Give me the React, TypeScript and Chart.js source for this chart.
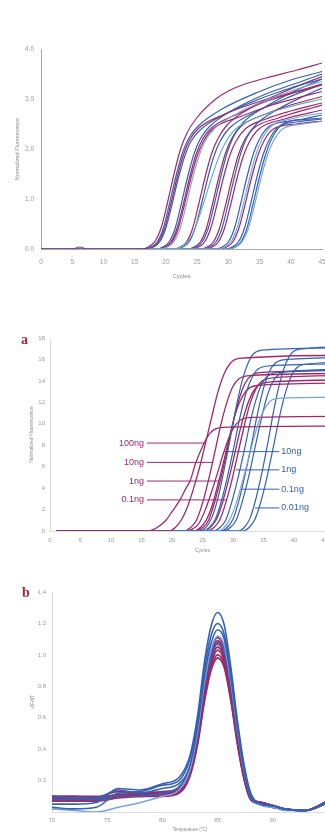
import React, { useEffect, useRef } from 'react';
import { Chart, registerables } from 'chart.js';

Chart.register(...registerables);

type Pt = [number, number];

// ---------------- Panel 1 (top): amplification curves, cycles vs normalised fluorescence
const run1Purple: Pt[][] = [
  [[0,0],[16.3,0],[17.3,0.05],[18.3,0.16],[19.3,0.45],[20.3,0.95],[21.3,1.5],[22.3,1.98],[23.3,2.3],[24.8,2.6],[28,3.0],[31,3.22],[36,3.42],[41,3.58],[45,3.72]],
  [[0,0],[16.8,0],[17.8,0.04],[18.8,0.14],[19.8,0.42],[20.8,0.9],[21.8,1.43],[22.8,1.88],[23.8,2.18],[25.3,2.42],[29.5,2.7],[35,2.95],[40,3.12],[45,3.3]],
  [[0,0],[18.8,0],[19.8,0.04],[20.8,0.14],[21.8,0.42],[22.8,0.9],[23.8,1.43],[24.8,1.88],[25.8,2.18],[27.3,2.42],[31.5,2.7],[36,2.95],[41,3.14],[45,3.28]],
  [[0,0],[19,0],[20,0.04],[21,0.14],[22,0.42],[23,0.9],[24,1.42],[25,1.86],[26,2.15],[27.5,2.4],[32,2.65],[37,2.88],[41,3.02],[45,3.15]],
  [[0,0],[21.3,0],[22.3,0.04],[23.3,0.14],[24.3,0.42],[25.3,0.92],[26.3,1.45],[27.3,1.9],[28.3,2.2],[29.8,2.48],[34,2.85],[39,3.15],[45,3.45]],
  [[0,0],[23.5,0],[24.5,0.04],[25.5,0.14],[26.5,0.42],[27.5,0.92],[28.5,1.45],[29.5,1.9],[30.5,2.2],[32,2.45],[36,2.7],[40,2.88],[45,3.05]],
  [[0,0],[24.2,0],[25.2,0.04],[26.2,0.14],[27.2,0.42],[28.2,0.9],[29.2,1.42],[30.2,1.86],[31.2,2.15],[32.7,2.4],[36,2.6],[40,2.76],[45,2.92]],
  [[0,0],[25.6,0],[26.6,0.04],[27.6,0.14],[28.6,0.42],[29.6,0.9],[30.6,1.42],[31.6,1.88],[32.6,2.18],[34.1,2.42],[38,2.62],[45,2.88]],
  [[0,0],[26.4,0],[27.4,0.04],[28.4,0.14],[29.4,0.42],[30.4,0.9],[31.4,1.42],[32.4,1.86],[33.4,2.15],[34.9,2.4],[39,2.6],[45,2.78]],
  [[0,0],[28.7,0],[29.7,0.04],[30.7,0.14],[31.7,0.42],[32.7,0.9],[33.7,1.42],[34.7,1.86],[35.7,2.16],[37.2,2.4],[41,2.5],[45,2.56]],
];
const run1Blue: Pt[][] = [
  [[0,0],[5,0],[6.2,0.04],[7.4,0],[16.6,0],[17.6,0.04],[18.6,0.14],[19.6,0.42],[20.6,0.92],[21.6,1.45],[22.6,1.9],[23.6,2.2],[25.1,2.45],[29,2.8],[35,3.15],[40,3.38],[45,3.55]],
  [[0,0],[17,0],[18,0.04],[19,0.14],[20,0.42],[21,0.9],[22,1.42],[23,1.85],[24,2.15],[25.5,2.38],[29.5,2.7],[35,3.0],[40,3.22],[45,3.4]],
  [[0,0],[18.5,0],[19.5,0.04],[20.5,0.14],[21.5,0.42],[22.5,0.92],[23.5,1.45],[24.5,1.9],[25.5,2.2],[27,2.45],[31,2.8],[36,3.1],[41,3.32],[45,3.5]],
  [[0,0],[21.7,0],[22.7,0.04],[23.7,0.14],[24.7,0.42],[25.7,0.9],[26.7,1.42],[27.7,1.86],[28.7,2.16],[30.2,2.42],[34,2.72],[39,3.0],[45,3.3]],
  [[0,0],[23.8,0],[24.8,0.04],[25.8,0.14],[26.8,0.42],[27.8,0.92],[28.8,1.45],[29.8,1.92],[30.8,2.24],[32.3,2.52],[36,2.85],[40,3.12],[45,3.4]],
  [[0,0],[26,0],[27,0.04],[28,0.14],[29,0.42],[30,0.92],[31,1.45],[32,1.92],[33,2.24],[34.5,2.5],[38,2.8],[42,3.05],[45,3.22]],
  [[0,0],[28,0],[29,0.04],[30,0.14],[31,0.42],[32,0.92],[33,1.45],[34,1.9],[35,2.2],[36.5,2.45],[40,2.56],[45,2.62]],
  [[0,0],[29.6,0],[30.6,0.04],[31.6,0.14],[32.6,0.42],[33.6,0.92],[34.6,1.45],[35.6,1.9],[36.6,2.2],[38.1,2.45],[41,2.54],[45,2.6]],
  [[0,0],[30,0],[31,0.04],[32,0.14],[33,0.42],[34,0.92],[35,1.45],[36,1.9],[37,2.22],[38.5,2.48],[42,2.6],[45,2.68]],
];
const run1Light: Pt[][] = [
  [[0,0],[19.2,0],[20.2,0.04],[21.2,0.13],[22.2,0.38],[23.2,0.85],[24.2,1.38],[25.2,1.82],[26.2,2.14],[27.7,2.4],[32,2.75],[37,3.02],[41,3.2],[45,3.35]],
  [[0,0],[28.4,0],[29.4,0.04],[30.4,0.14],[31.4,0.42],[32.4,0.9],[33.4,1.42],[34.4,1.88],[35.4,2.2],[36.9,2.46],[40,2.6],[45,2.72]],
  [[0,0],[30.2,0],[31.2,0.04],[32.2,0.14],[33.2,0.4],[34.2,0.88],[35.2,1.4],[36.2,1.85],[37.2,2.15],[38.7,2.4],[42,2.5],[45,2.55]],
];
const run1Teal: Pt[][] = [
  [[0,0],[21.2,0],[22.2,0.03],[23.2,0.1],[24.2,0.28],[25.2,0.6],[26.2,0.98],[27.2,1.38],[28.2,1.75],[29.2,2.05],[31,2.38],[35,2.65],[40,2.85],[45,3.0]],
];

// ---------------- Panel a: amplification of a dilution series
const runAPurple: Pt[][] = [
  [[1,0],[19.5,0],[20.5,0.3],[21.5,1.0],[22.5,2.2],[23.5,3.9],[24.5,5.9],[25.5,8.2],[26.5,10.6],[27.5,12.9],[28.5,14.6],[29.5,15.6],[31,16.1],[50,16.4]],
  [[1,0],[16,0],[17.5,0.3],[19,1.0],[20,1.8],[21.3,2.9],[22.3,4.0],[23,4.7],[23.8,6.2],[25.1,8.0],[26.2,9.1],[27.5,9.6],[30,9.7],[50,9.8]],
  [[1,0],[22,0],[23,0.3],[24,1.0],[25,2.6],[26,4.8],[27,7.3],[28,9.9],[29,12.0],[30,13.5],[31,14.2],[33,14.5],[50,14.7]],
  [[1,0],[22.4,0],[23.4,0.2],[24.4,0.7],[25.4,1.9],[26.4,3.5],[27.4,5.3],[28.4,7.2],[29.4,8.8],[30.4,9.9],[31.4,10.4],[33.4,10.6],[50,10.7]],
  [[1,0],[23.6,0],[24.6,0.3],[25.6,1.0],[26.6,2.4],[27.6,4.5],[28.6,6.8],[29.6,9.2],[30.6,11.3],[31.6,12.6],[32.6,13.3],[34.6,13.6],[50,13.8]],
  [[1,0],[24,0],[25,0.3],[26,1.0],[27,2.7],[28,4.9],[29,7.4],[30,10.1],[31,12.3],[32,13.8],[33,14.5],[35,14.8],[50,15.0]],
  [[1,0],[25.2,0],[26.2,0.3],[27.2,1.0],[28.2,2.5],[29.2,4.6],[30.2,7.0],[31.2,9.5],[32.2,11.5],[33.2,12.9],[34.2,13.6],[36.2,13.9],[50,14.1]],
  [[1,0],[25.8,0],[26.8,0.3],[27.8,1.0],[28.8,2.6],[29.8,4.7],[30.8,7.2],[31.8,9.7],[32.8,11.9],[33.8,13.3],[34.8,14.0],[36.8,14.3],[50,14.5]],
];
const runABlue: Pt[][] = [
  [[1,0],[24.5,0],[25.5,0.3],[26.5,1.2],[27.5,3.0],[28.5,5.6],[29.5,8.5],[30.5,11.5],[31.5,14.0],[32.5,15.7],[33.5,16.6],[35.5,16.9],[50,17.1]],
  [[1,0],[25.1,0],[26.1,0.3],[27.1,1.1],[28.1,2.8],[29.1,5.1],[30.1,7.7],[31.1,10.5],[32.1,12.8],[33.1,14.3],[34.1,15.1],[36.1,15.4],[50,15.6]],
  [[1,0],[26.8,0],[27.8,0.3],[28.8,1.0],[29.8,2.7],[30.8,4.9],[31.8,7.4],[32.8,10.1],[33.8,12.3],[34.8,13.8],[35.8,14.5],[37.8,14.8],[50,15.0]],
  [[1,0],[28,0],[29,0.3],[30,1.1],[31,2.9],[32,5.3],[33,8.0],[34,10.9],[35,13.3],[36,14.9],[37,15.7],[39,16.0],[50,16.2]],
  [[1,0],[28.5,0],[29.5,0.3],[30.5,1.0],[31.5,2.7],[32.5,4.9],[33.5,7.5],[34.5,10.1],[35.5,12.4],[36.5,13.9],[37.5,14.6],[39.5,14.9],[50,15.1]],
  [[1,0],[30.8,0],[31.8,0.3],[32.8,1.2],[33.8,3.1],[34.8,5.6],[35.8,8.5],[36.8,11.6],[37.8,14.1],[38.8,15.8],[39.8,16.7],[41.8,17.0],[50,17.2]],
  [[1,0],[31.6,0],[32.6,0.3],[33.6,1.1],[34.6,2.8],[35.6,5.1],[36.6,7.8],[37.6,10.6],[38.6,12.9],[39.6,14.5],[40.6,15.3],[42.6,15.6],[50,15.8]],
];
const runALight: Pt[][] = [
  [[1,0],[27.3,0],[28.3,0.2],[29.3,0.9],[30.3,2.2],[31.3,4.1],[32.3,6.2],[33.3,8.4],[34.3,10.3],[35.3,11.5],[36.3,12.2],[38.3,12.4],[50,12.5]],
];
const concPurple = ['100ng', '10ng', '1ng', '0.1ng'];
const concPurpleLevel = [8.2, 6.4, 4.66, 2.9];
const concPurpleEnd = [25.4, 26.6, 27.8, 29.0];
const concPurpleStart = 15.9;
const concBlue = ['10ng', '1ng', '0.1ng', '0.01ng'];
const concBlueLevel = [7.4, 5.7, 3.9, 2.15];
const concBlueStart = [28.5, 30.5, 31.5, 33.6];
const concBlueEnd = 37.6;

// ---------------- Panel b: melt curves
const meltTemps = [70, 72, 74, 76, 78, 80, 81.5, 82.5, 83.2, 83.8, 84.4, 85, 85.6, 86.2, 86.8, 87.4, 88, 89, 90, 91, 93, 95];
const meltBlue: number[][] = [
  [0.05, 0.05, 0.06, 0.15, 0.14, 0.18, 0.22, 0.36, 0.62, 0.95, 1.18, 1.27, 1.19, 0.92, 0.58, 0.3, 0.12, 0.05, 0.04, 0.02, 0.01, 0.06],
  [0.03, 0.02, 0.03, 0.12, 0.13, 0.17, 0.2, 0.34, 0.58, 0.9, 1.12, 1.2, 1.13, 0.88, 0.55, 0.28, 0.11, 0.05, 0.04, 0.02, 0.01, 0.06],
  [0.1, 0.09, 0.09, 0.14, 0.12, 0.15, 0.18, 0.3, 0.55, 0.86, 1.07, 1.16, 1.1, 0.86, 0.54, 0.27, 0.1, 0.05, 0.04, 0.02, 0.01, 0.07],
  [0.02, 0.01, 0.0, 0.03, 0.06, 0.1, 0.14, 0.27, 0.52, 0.82, 1.03, 1.12, 1.06, 0.83, 0.52, 0.26, 0.1, 0.04, 0.03, 0.01, 0.01, 0.06],
  [0.08, 0.08, 0.08, 0.1, 0.1, 0.12, 0.16, 0.28, 0.5, 0.8, 0.99, 1.08, 1.02, 0.8, 0.5, 0.25, 0.09, 0.05, 0.04, 0.02, 0.01, 0.06],
];
const meltPurple: number[][] = [
  [0.1, 0.09, 0.09, 0.11, 0.11, 0.12, 0.14, 0.26, 0.49, 0.79, 1.02, 1.11, 1.04, 0.8, 0.49, 0.24, 0.09, 0.06, 0.04, 0.02, 0.01, 0.07],
  [0.09, 0.09, 0.08, 0.1, 0.11, 0.11, 0.13, 0.25, 0.47, 0.76, 0.98, 1.07, 1.0, 0.77, 0.47, 0.23, 0.09, 0.06, 0.04, 0.02, 0.01, 0.07],
  [0.08, 0.08, 0.08, 0.1, 0.1, 0.11, 0.13, 0.25, 0.46, 0.75, 0.96, 1.05, 0.98, 0.76, 0.46, 0.22, 0.08, 0.05, 0.03, 0.02, 0.01, 0.07],
  [0.1, 0.1, 0.09, 0.11, 0.12, 0.13, 0.15, 0.26, 0.46, 0.74, 0.94, 1.03, 0.96, 0.74, 0.45, 0.22, 0.09, 0.06, 0.04, 0.02, 0.01, 0.07],
  [0.07, 0.07, 0.07, 0.09, 0.1, 0.1, 0.12, 0.23, 0.44, 0.72, 0.92, 1.0, 0.94, 0.72, 0.44, 0.21, 0.08, 0.05, 0.03, 0.02, 0.01, 0.06],
  [0.09, 0.08, 0.09, 0.13, 0.12, 0.12, 0.14, 0.26, 0.48, 0.78, 1.0, 1.09, 1.02, 0.79, 0.48, 0.23, 0.09, 0.06, 0.04, 0.02, 0.01, 0.07],
  [0.1, 0.1, 0.1, 0.1, 0.11, 0.12, 0.13, 0.24, 0.44, 0.7, 0.9, 0.98, 0.92, 0.71, 0.43, 0.21, 0.08, 0.05, 0.04, 0.02, 0.01, 0.07],
];

// ---------------- styling
const PURPLE = '#9c2a6b';
const BLUE = '#3461b1';
const LIGHT = '#79a3dc';
const TEAL = '#63aebf';
const MAROON = '#a8263f';
const FONT = '"Liberation Sans", Arial, sans-serif';
const TICK = '#9a9a9a';

Chart.defaults.font.family = FONT;

function curve(pts: Pt[], color: string, width: number): any {
  return {
    data: pts.map(([x, y]) => ({ x, y })),
    borderColor: color,
    borderWidth: width,
    pointRadius: 0,
    fill: false,
    cubicInterpolationMode: 'monotone',
  };
}

function interleave<T>(...groups: T[][]): T[] {
  const out: T[] = [];
  const n = Math.max(...groups.map((g) => g.length));
  for (let i = 0; i < n; i++) for (const g of groups) if (i < g.length) out.push(g[i]);
  return out;
}

function axis(o: {
  min: number; max: number; step: number; size: number; pad: number; border: string;
  title: string; titleSize: number; titlePadTop: number; titlePadBottom: number;
  fit: (s: any) => void; fmt?: (v: number) => string;
}): any {
  return {
    type: 'linear',
    min: o.min,
    max: o.max,
    ticks: {
      stepSize: o.step,
      autoSkip: false,
      maxRotation: 0,
      padding: o.pad,
      color: TICK,
      font: { size: o.size },
      callback: o.fmt ? (v: any) => o.fmt!(Number(v)) : undefined,
    },
    grid: { display: false, drawTicks: false },
    border: { display: true, color: o.border, width: 1 },
    title: {
      display: true,
      text: o.title,
      color: '#8a8a8a',
      font: { size: o.titleSize },
      padding: { top: o.titlePadTop, bottom: o.titlePadBottom },
    },
    afterFit: o.fit,
  };
}

const baseOptions = (padding: any): any => ({
  responsive: false,
  animation: false,
  events: [],
  layout: { padding },
  plugins: { legend: { display: false }, tooltip: { enabled: false } },
});

function makePanel1(canvas: HTMLCanvasElement) {
  const ds = interleave(
    run1Purple.map((p) => curve(p, PURPLE, 1.2)),
    run1Blue.map((p) => curve(p, BLUE, 1.2)),
    run1Light.map((p) => curve(p, LIGHT, 1.1)),
    run1Teal.map((p) => curve(p, TEAL, 1.1)),
  );
  return new Chart(canvas, {
    type: 'line',
    data: { datasets: ds },
    options: {
      ...baseOptions({ top: 49, right: 23, bottom: 0, left: 0 }),
      scales: {
        x: axis({ min: 0, max: 45, step: 5, size: 6.5, pad: 9, border: '#aaaaaa', title: 'Cycles', titleSize: 6, titlePadTop: 0, titlePadBottom: 5.4, fit: (s) => { s.height = 36; } }),
        y: axis({ min: 0, max: 4, step: 1, size: 6.5, pad: 7, border: '#aaaaaa', title: 'Normalized Fluorescence', titleSize: 5.5, titlePadTop: 13.7, titlePadBottom: 0, fit: (s) => { s.width = 41; }, fmt: (v) => v.toFixed(1) }),
      },
    },
  } as any);
}

const concLabelPlugin = {
  id: 'concLabels',
  afterDatasetsDraw(chart: any) {
    const { ctx, scales } = chart;
    const x = scales.x;
    const y = scales.y;
    ctx.save();
    ctx.font = `9px ${FONT}`;
    ctx.textBaseline = 'middle';
    ctx.fillStyle = PURPLE;
    ctx.textAlign = 'right';
    concPurple.forEach((t, i) => {
      ctx.fillText(t, x.getPixelForValue(concPurpleStart) - 3, y.getPixelForValue(concPurpleLevel[i]));
    });
    ctx.fillStyle = BLUE;
    ctx.textAlign = 'left';
    concBlue.forEach((t, i) => {
      ctx.fillText(t, x.getPixelForValue(concBlueEnd) + 2, y.getPixelForValue(concBlueLevel[i]));
    });
    ctx.restore();
  },
};

function makePanelA(canvas: HTMLCanvasElement) {
  const ds = interleave(
    runAPurple.map((p) => curve(p, PURPLE, 1.3)),
    runABlue.map((p) => curve(p, BLUE, 1.2)),
    runALight.map((p) => curve(p, LIGHT, 1.2)),
  );
  const leaders: any[] = [];
  concPurple.forEach((_, i) => {
    leaders.push({
      data: [{ x: concPurpleStart, y: concPurpleLevel[i] }, { x: concPurpleEnd[i], y: concPurpleLevel[i] }],
      borderColor: PURPLE, borderWidth: 1, pointRadius: 0, fill: false,
    });
  });
  concBlue.forEach((_, i) => {
    leaders.push({
      data: [{ x: concBlueStart[i], y: concBlueLevel[i] }, { x: concBlueEnd, y: concBlueLevel[i] }],
      borderColor: BLUE, borderWidth: 1, pointRadius: 0, fill: false,
    });
  });
  return new Chart(canvas, {
    type: 'line',
    data: { datasets: [...ds, ...leaders] },
    options: {
      ...baseOptions({ top: 53, right: 10, bottom: 0, left: 0 }),
      scales: {
        x: axis({ min: 0, max: 50, step: 5, size: 6, pad: 6, border: '#dddddd', title: 'Cycles', titleSize: 5, titlePadTop: 0, titlePadBottom: 11, fit: (s) => { s.height = 34; } }),
        y: axis({ min: 0, max: 18, step: 2, size: 6, pad: 5, border: '#dddddd', title: 'Normalized Fluorescence', titleSize: 5, titlePadTop: 29, titlePadBottom: 0, fit: (s) => { s.width = 50; } }),
      },
    },
    plugins: [concLabelPlugin],
  } as any);
}

function makePanelB(canvas: HTMLCanvasElement) {
  const toPts = (vals: number[]): Pt[] => meltTemps.map((t, i) => [t, vals[i]] as Pt);
  const ds = [
    ...meltBlue.map((v, i) => curve(toPts(v), i === 3 ? LIGHT : BLUE, 1.6)),
    ...meltPurple.map((v) => curve(toPts(v), PURPLE, 1.8)),
  ];
  return new Chart(canvas, {
    type: 'line',
    data: { datasets: ds },
    options: {
      ...baseOptions({ top: 27, right: 17, bottom: 0, left: 0 }),
      scales: {
        x: axis({ min: 70, max: 95, step: 5, size: 6, pad: 5, border: '#dddddd', title: 'Temperature (°C)', titleSize: 4.5, titlePadTop: 0, titlePadBottom: 1.3, fit: (s) => { s.height = 22; } }),
        y: axis({ min: 0, max: 1.4, step: 0.2, size: 6, pad: 6, border: '#dddddd', title: '-dF/dT', titleSize: 5, titlePadTop: 30, titlePadBottom: 0, fit: (s) => { s.width = 52; }, fmt: (v) => (Math.abs(v) < 1e-9 ? '' : v.toFixed(1)) }),
      },
    },
  } as any);
}

function ChartBox({ make, left, top, width, height }: { make: (c: HTMLCanvasElement) => Chart; left: number; top: number; width: number; height: number }) {
  const ref = useRef<HTMLCanvasElement>(null);
  useEffect(() => {
    const chart = make(ref.current!);
    return () => chart.destroy();
  }, []);
  return (
    <canvas
      ref={ref}
      width={width}
      height={height}
      style={{ position: 'absolute', left, top, width, height, display: 'block' }}
    />
  );
}

const panelLetter: React.CSSProperties = {
  position: 'absolute',
  fontFamily: '"Liberation Serif", "DejaVu Serif", serif',
  fontWeight: 'bold',
  fontSize: 14,
  lineHeight: '14px',
  color: MAROON,
};

export default function App() {
  return (
    <div style={{ position: 'absolute', left: 0, top: 0, width: 325, height: 834, overflow: 'hidden', background: '#ffffff' }}>
      <ChartBox make={makePanel1} left={0} top={0} width={345} height={285} />
      <ChartBox make={makePanelA} left={0} top={285} width={365} height={280} />
      <ChartBox make={makePanelB} left={0} top={565} width={345} height={269} />
      <span style={{ ...panelLetter, left: 21, top: 333 }}>a</span>
      <span style={{ ...panelLetter, left: 22, top: 586 }}>b</span>
    </div>
  );
}
